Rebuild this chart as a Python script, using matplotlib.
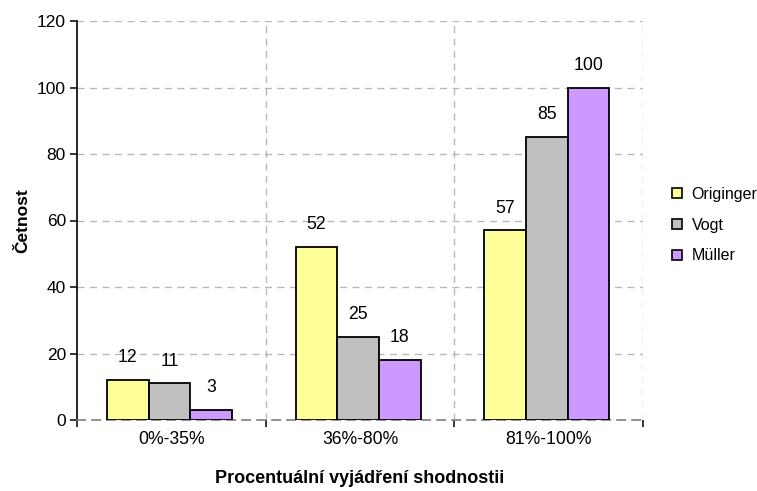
import numpy as np
import matplotlib
matplotlib.use("Agg")
import matplotlib.pyplot as plt
from matplotlib.patches import Patch

plt.rcParams['font.family'] = ['Liberation Sans', 'DejaVu Sans']

categories = ["0%-35%", "36%-80%", "81%-100%"]
series_names = ["Originger", "Vogt", "Müller"]
originger = [12, 52, 57]
vogt = [11, 25, 85]
muller = [3, 18, 100]
y_ticks = [0, 20, 40, 60, 80, 100, 120]

colors = ["#ffff99", "#c0c0c0", "#cc99ff"]
grid_color = "#b8b8b8"
dash = (0, (5, 4))

fig = plt.figure(figsize=(7.57, 4.91), dpi=100)
ax = fig.add_axes([77 / 757, (491 - 420) / 491, (643 - 77) / 757, (420 - 21) / 491])

x = np.arange(len(categories))
w = 0.221
for i, (vals, col) in enumerate(zip([originger, vogt, muller], colors)):
    pos = x + (i - 1) * w - 0.01
    ax.bar(pos, vals, width=w, color=col, edgecolor="black", linewidth=1.3, zorder=3)
    for xb, v in zip(pos, vals):
        ax.annotate(str(v), (xb, v), xytext=(0, 10), textcoords="offset points",
                    ha="center", va="bottom", fontsize=12.7, zorder=4)

ax.set_xlim(-0.5, 2.5)
ax.set_ylim(0, 120)

# grid lines
for yv in y_ticks[1:]:
    ax.axhline(yv, color=grid_color, lw=1, ls=dash, zorder=1)
for xv in [0.5, 1.5, 2.5]:
    ax.axvline(xv, color=grid_color, lw=1, ls=dash, zorder=1)

for s in ["top", "right"]:
    ax.spines[s].set_visible(False)
ax.spines["bottom"].set_color("#808080")
ax.spines["bottom"].set_linestyle(dash)
ax.spines["bottom"].set_linewidth(1.2)
ax.spines["left"].set_color("black")
ax.spines["left"].set_linewidth(1.2)

ax.set_yticks(y_ticks)
ax.set_yticklabels([str(t) for t in y_ticks], fontsize=12.5)
ax.tick_params(axis="y", direction="out", length=5, width=1.1, pad=3)

ax.set_xticks([-0.5, 0.5, 1.5, 2.5])
ax.set_xticklabels([])
ax.tick_params(axis="x", which="major", direction="out", length=5, width=1.1)
ax.set_xticks(x, minor=True)
ax.set_xticklabels(categories, minor=True, fontsize=12.7)
ax.tick_params(axis="x", which="minor", length=0, pad=8)

ax.set_xlabel("Procentuální vyjádření shodnostii", fontsize=13, fontweight="bold", labelpad=16)
ax.set_ylabel("Četnost", fontsize=12.5, fontweight="bold", labelpad=5)

handles = [Patch(facecolor=c, edgecolor="black", linewidth=1.2) for c in colors]
fig.legend(handles, series_names, loc="center left", bbox_to_anchor=(658 / 757, 1 - 225 / 491),
           frameon=False, fontsize=11.5, handlelength=0.6, handleheight=0.6,
           handletextpad=0.6, labelspacing=1.0)

fig.savefig("out.png", dpi=100)
